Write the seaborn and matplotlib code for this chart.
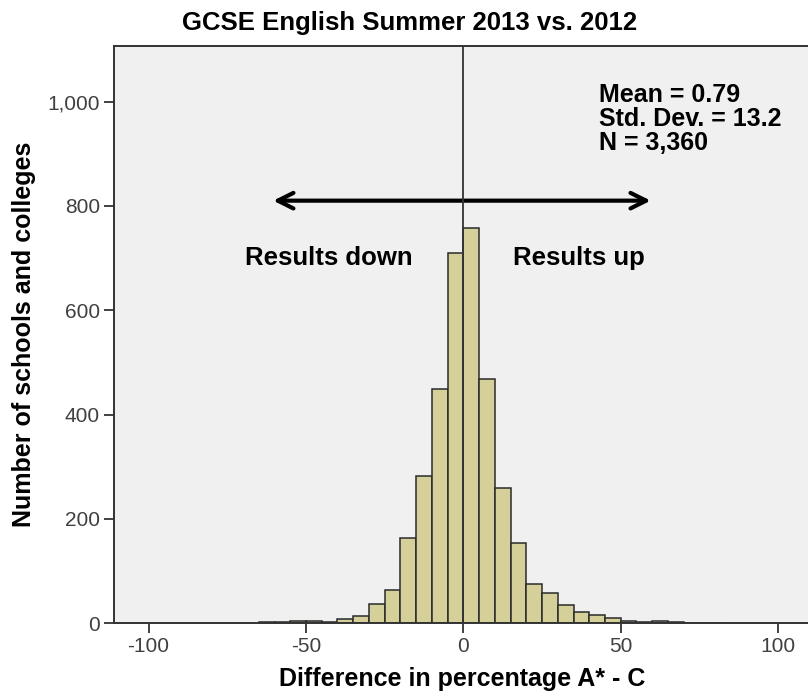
import numpy as np
import pandas as pd
import matplotlib
matplotlib.use("Agg")
import matplotlib.pyplot as plt
import seaborn as sns

# Bin edges (width 5) and counts
bin_edges = list(range(-65, 90, 5))
counts = [2, 2, 4, 4, 2, 8, 14, 37, 64, 163, 282, 449, 709,
          757, 468, 260, 153, 75, 58, 35, 21, 16, 10, 4, 2, 4, 2, 1, 0, 1]
x_ticks = [-100, -50, 0, 50, 100]
y_ticks = [0, 200, 400, 600, 800, 1000]
stats_lines = ["Mean = 0.79", "Std. Dev. = 13.2", "N = 3,360"]

centers = [(a + b) / 2 for a, b in zip(bin_edges[:-1], bin_edges[1:])]
df = pd.DataFrame({"diff": centers, "n": counts})

sns.set_style("white")
plt.rcParams["font.family"] = ["Liberation Sans", "DejaVu Sans"]
plt.rcParams["axes.unicode_minus"] = False
plt.rcParams["text.color"] = "black"
plt.rcParams["axes.labelcolor"] = "black"

fig = plt.figure(figsize=(8.08, 6.97), dpi=100)
ax = fig.add_axes([114 / 808, 73.7 / 697, 1 - 114 / 808 + 0.002, 577.6 / 697])
ax.set_facecolor("#f0f0f0")

sns.histplot(data=df, x="diff", weights="n", bins=bin_edges, ax=ax,
             color="#d5d09a", edgecolor="#2a2a2a", linewidth=1.1, alpha=1)

ax.axvline(0, color="#333333", lw=1.3, zorder=5)

ax.set_xlim(-111, 110)
ax.set_ylim(0, 1107)
ax.set_xticks(x_ticks)
ax.set_yticks(y_ticks)
ax.set_yticklabels([f"{v:,}" for v in y_ticks])
ax.tick_params(axis="both", direction="out", length=7, width=1.3,
               color="#333333", labelsize=15, labelcolor="#404040",
               left=True, bottom=True, pad=3)

for s in ["left", "bottom", "top", "right"]:
    ax.spines[s].set_color("#333333")
    ax.spines[s].set_linewidth(1.4)

ax.set_xlabel("Difference in percentage A* - C", fontsize=18, fontweight="bold", labelpad=8)
ax.set_ylabel("Number of schools and colleges", fontsize=18, fontweight="bold", labelpad=8)

# arrow and annotations
ax.annotate("", xy=(-61.3, 810), xytext=(60.4, 810),
            arrowprops=dict(arrowstyle="<->", lw=3, color="black", mutation_scale=28))
ax.text(-42.6, 700, "Results down", fontsize=18.5, fontweight="bold",
        ha="center", va="center")
ax.text(36.6, 700, "Results up", fontsize=18.5, fontweight="bold",
        ha="center", va="center")
ax.text(43, 1036, "\n".join(stats_lines), fontsize=18, fontweight="bold",
        ha="left", va="top", linespacing=1.0)

fig.text(410 / 808, 1 - 23 / 697, "GCSE English Summer 2013 vs. 2012",
         fontsize=18.5, fontweight="bold", ha="center", va="center")

fig.savefig("out.png", dpi=100)
